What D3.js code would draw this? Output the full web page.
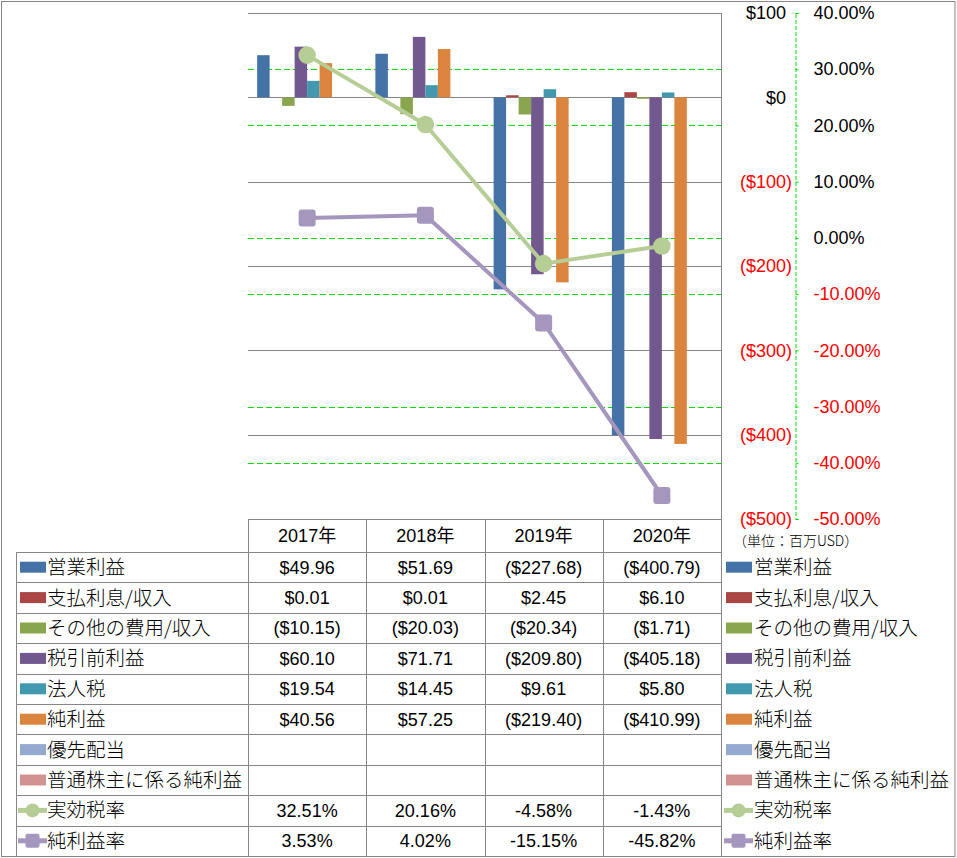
<!DOCTYPE html>
<html><head><meta charset="utf-8">
<script src="https://cdn.jsdelivr.net/npm/d3@7"></script>
<style>body{margin:0;background:#fff} svg{display:block}</style>
</head><body>
<svg id="c" width="957" height="858"></svg>
<script>
// ---- data ----
const categories = ["2017年", "2018年", "2019年", "2020年"];
const operatingIncome = [49.96, 51.69, -227.68, -400.79];
const interest = [0.01, 0.01, 2.45, 6.10];
const otherExpense = [-10.15, -20.03, -20.34, -1.71];
const pretaxIncome = [60.10, 71.71, -209.80, -405.18];
const incomeTax = [19.54, 14.45, 9.61, 5.80];
const netIncome = [40.56, 57.25, -219.40, -410.99];
const preferredDividends = [null, null, null, null];
const netIncomeCommon = [null, null, null, null];
const effectiveTaxRate = [32.51, 20.16, -4.58, -1.43];
const netMargin = [3.53, 4.02, -15.15, -45.82];
const dollarTicks = [100, 0, -100, -200, -300, -400, -500];
const pctTicks = [40, 30, 20, 10, 0, -10, -20, -30, -40, -50];
const unitLabel = "（単位：百万USD）";

const barNames = ["営業利益", "支払利息/収入", "その他の費用/収入", "税引前利益", "法人税", "純利益", "優先配当", "普通株主に係る純利益"];
const barValues = [operatingIncome, interest, otherExpense, pretaxIncome, incomeTax, netIncome, preferredDividends, netIncomeCommon];
const barColors = ["#4572A7", "#AA4643", "#89A54E", "#71588F", "#4198AF", "#DB843D", "#93A9CF", "#D19392"];
const lineNames = ["実効税率", "純利益率"];
const lineValues = [effectiveTaxRate, netMargin];
const lineColors = ["#B7CD96", "#A596BE"];

// ---- layout ----
const svg = d3.select("#c");
const L = 248, R = 721, T = 13, B = 519;
const NUMF = "'Liberation Sans', Arial, 'Noto Sans CJK JP', sans-serif";
const JPF = "'Noto Sans CJK JP', sans-serif";
const grid = "#868686";

const y = d3.scaleLinear().domain([-500, 100]).range([B, T]);
const y2 = d3.scaleLinear().domain([-50, 40]).range([B, T]);
const x0 = d3.scaleBand().domain(categories).range([L, R]);
const x1 = d3.scaleBand().domain(barNames).range([0, x0.bandwidth()]).paddingOuter(0.73);
const cx = c => x0(c) + x0.bandwidth() / 2;
const crisp = v => Math.round(v) + 0.5;

// outer border
svg.append("rect").attr("x", 1.5).attr("y", 1.5).attr("width", 953.5).attr("height", 855)
  .attr("fill", "none").attr("stroke", grid).attr("stroke-width", 1);

// green secondary gridlines
svg.append("g").selectAll("line").data(pctTicks).join("line")
  .attr("x1", L).attr("x2", R).attr("y1", d => crisp(y2(d))).attr("y2", d => crisp(y2(d)))
  .attr("stroke", "#00E000").attr("stroke-width", 1).attr("stroke-dasharray", "6,3");

// gray primary gridlines
svg.append("g").selectAll("line").data(dollarTicks).join("line")
  .attr("x1", L).attr("x2", R).attr("y1", d => crisp(y(d))).attr("y2", d => crisp(y(d)))
  .attr("stroke", grid).attr("stroke-width", 1);

// primary axis line on right of plot
svg.append("line").attr("x1", R + 0.5).attr("x2", R + 0.5).attr("y1", T).attr("y2", B)
  .attr("stroke", grid);

// bars
const barsG = svg.append("g");
barNames.forEach((name, si) => {
  barsG.append("g").selectAll("rect")
    .data(categories.map((c, i) => ({c, v: barValues[si][i]})).filter(d => d.v !== null))
    .join("rect")
    .attr("x", d => x0(d.c) + x1(name))
    .attr("width", x1.bandwidth())
    .attr("y", d => y(Math.max(0, d.v)))
    .attr("height", d => Math.abs(y(d.v) - y(0)))
    .attr("fill", barColors[si]);
});

// lines
lineNames.forEach((name, li) => {
  const pts = categories.map((c, i) => [cx(c), y2(lineValues[li][i])]);
  svg.append("path").attr("d", d3.line()(pts)).attr("fill", "none")
    .attr("stroke", lineColors[li]).attr("stroke-width", 4).attr("stroke-linejoin", "round");
  const g = svg.append("g");
  if (li === 0) {
    g.selectAll("circle").data(pts).join("circle")
      .attr("cx", d => d[0]).attr("cy", d => d[1]).attr("r", 8.8).attr("fill", lineColors[li]);
  } else {
    g.selectAll("rect").data(pts).join("rect")
      .attr("x", d => d[0] - 8.5).attr("y", d => d[1] - 8.5).attr("width", 17).attr("height", 17)
      .attr("rx", 3).attr("fill", lineColors[li]);
  }
});

// dollar axis labels (right-aligned near x=792)
const dollarFmt = d => d >= 0 ? "$" + d : "($" + (-d) + ")";
const ax1 = svg.append("g").attr("transform", "translate(792,0)")
  .call(d3.axisLeft(y).tickValues(dollarTicks).tickSize(0).tickPadding(0).tickFormat(dollarFmt));
ax1.select(".domain").remove();
ax1.selectAll("text").attr("font-family", NUMF).attr("font-size", 18)
  .attr("fill", d => d < 0 ? "#FF0000" : "#000")
  .attr("dx", d => d >= 0 ? -6 : 0);

// percent axis
const ax2 = svg.append("g").attr("transform", "translate(795.5,0)")
  .call(d3.axisRight(y2).tickValues(pctTicks).tickSize(3).tickPadding(15).tickFormat(d => d.toFixed(2) + "%"));
ax2.select(".domain").attr("stroke", "#00E000").attr("stroke-dasharray", "4,2");
ax2.selectAll(".tick line").attr("stroke", "#00E000");
ax2.selectAll("text").attr("font-family", NUMF).attr("font-size", 18)
  .attr("fill", d => d < 0 ? "#FF0000" : "#000");

// unit label
svg.append("text").attr("x", 733).attr("y", 541).attr("dy", "0.35em")
  .attr("font-family", JPF).attr("font-weight", 300).attr("font-size", 14).attr("fill", "#000").text(unitLabel);

// ---- data table ----
const rowTop = 552, rowH = 30.4;
const tableG = svg.append("g");
tableG.append("line").attr("x1", L).attr("x2", R).attr("y1", B + 0.5).attr("y2", B + 0.5).attr("stroke", grid);
d3.range(0, 10).forEach(i => {
  const yy = crisp(rowTop + i * rowH);
  tableG.append("line").attr("x1", 16).attr("x2", R).attr("y1", yy).attr("y2", yy).attr("stroke", grid);
});
tableG.append("line").attr("x1", 16.5).attr("x2", 16.5).attr("y1", rowTop).attr("y2", 856).attr("stroke", grid);
categories.forEach(c => {
  const xx = crisp(x0(c));
  tableG.append("line").attr("x1", xx).attr("x2", xx).attr("y1", B).attr("y2", 856).attr("stroke", grid);
});
tableG.append("line").attr("x1", R + 0.5).attr("x2", R + 0.5).attr("y1", B).attr("y2", 856).attr("stroke", grid);

tableG.selectAll("text.hdr").data(categories).join("text").attr("class", "hdr")
  .attr("x", c => cx(c)).attr("y", 536).attr("dy", "0.35em").attr("text-anchor", "middle")
  .attr("font-family", NUMF).attr("font-size", 18).attr("fill", "#000").text(c => c);

const money = v => v === null ? "" : (v < 0 ? "($" + Math.abs(v).toFixed(2) + ")" : "$" + v.toFixed(2));
const pct = v => v === null ? "" : v.toFixed(2) + "%";

const rows = barNames.map((n, i) => ({name: n, vals: barValues[i], color: barColors[i], type: "bar", fmt: money}))
  .concat(lineNames.map((n, i) => ({name: n, vals: lineValues[i], color: lineColors[i], type: i === 0 ? "circle" : "square", fmt: pct})));

function drawKey(g, x, yc, r) {
  if (r.type === "bar") {
    g.append("rect").attr("x", x + 2).attr("y", yc - 5.5).attr("width", 26).attr("height", 11).attr("fill", r.color);
  } else {
    g.append("line").attr("x1", x).attr("x2", x + 29).attr("y1", yc).attr("y2", yc)
      .attr("stroke", r.color).attr("stroke-width", 5);
    if (r.type === "circle") g.append("circle").attr("cx", x + 14.5).attr("cy", yc).attr("r", 7).attr("fill", r.color);
    else g.append("rect").attr("x", x + 7.5).attr("y", yc - 7).attr("width", 14).attr("height", 14).attr("rx", 2).attr("fill", r.color);
  }
}

rows.forEach((r, i) => {
  const yc = rowTop + i * rowH + rowH / 2;
  drawKey(tableG, 18, yc, r);
  tableG.append("text").attr("x", 47).attr("y", yc).attr("dy", "0.36em")
    .attr("font-family", JPF).attr("font-weight", 300).attr("font-size", 19.5).attr("fill", "#000").text(r.name);
  categories.forEach((c, j) => {
    tableG.append("text").attr("x", cx(c)).attr("y", yc).attr("dy", "0.36em").attr("text-anchor", "middle")
      .attr("font-family", NUMF).attr("font-size", 18).attr("fill", "#000").text(r.fmt(r.vals[j]));
  });
  drawKey(tableG, 724, yc, r);
  tableG.append("text").attr("x", 754).attr("y", yc).attr("dy", "0.36em")
    .attr("font-family", JPF).attr("font-weight", 300).attr("font-size", 19.5).attr("fill", "#000").text(r.name);
});
</script>
</body></html>
